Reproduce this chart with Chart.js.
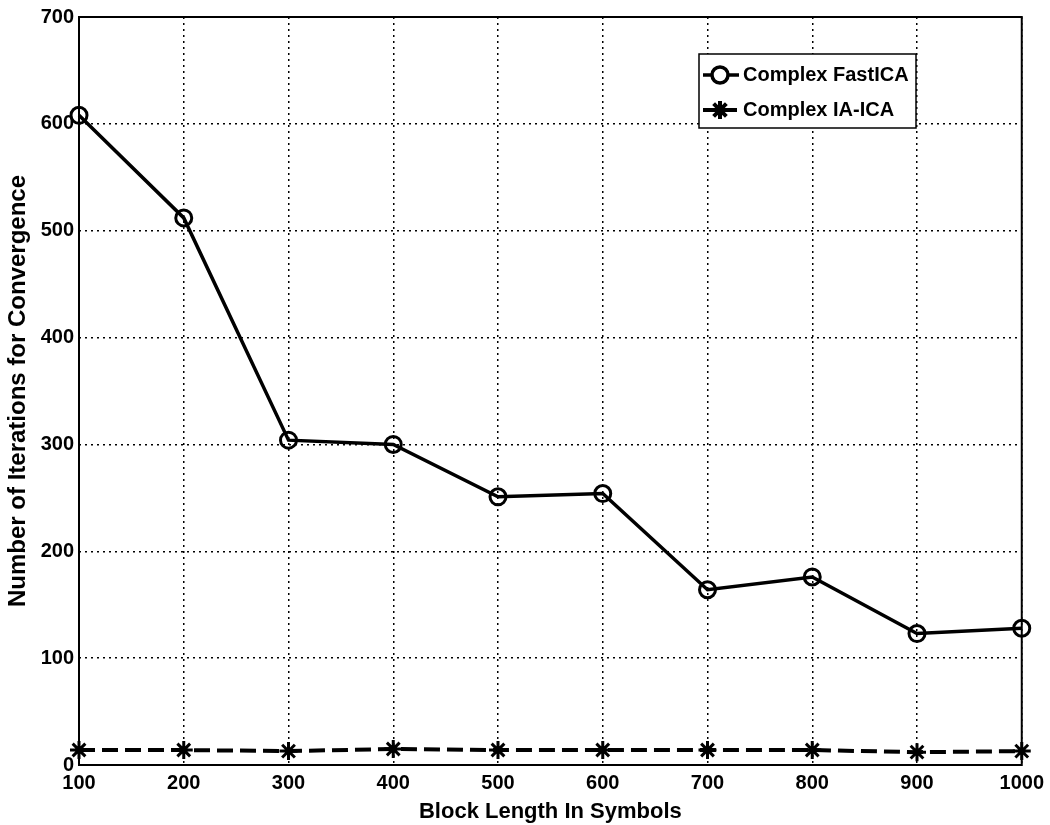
<!DOCTYPE html>
<html>
<head>
<meta charset="utf-8">
<script src="https://cdn.jsdelivr.net/npm/chart.js@4"></script>
<style>
  html, body { margin: 0; padding: 0; background: #fff; }
  #wrap { width: 1050px; height: 825px; }
</style>
</head>
<body>
<div id="wrap"><canvas id="myChart" width="1050" height="825"></canvas></div>
<script>
// block lengths (x) and iteration counts
const blockLengths = [100, 200, 300, 400, 500, 600, 700, 800, 900, 1000];
const fastIcaIters = [608, 512, 304, 300, 251, 254, 164, 176, 123, 128];
const iaIcaIters = [14, 14, 13, 15, 14, 14, 14, 14, 12, 13];
const seriesNames = ["Complex FastICA", "Complex IA-ICA"];

const xTicks = [100, 200, 300, 400, 500, 600, 700, 800, 900, 1000];
const yTicks = [0, 100, 200, 300, 400, 500, 600, 700];

const FONT = "'Liberation Sans', Arial, sans-serif";

// frame round the plot area + legend box in the top right corner
const framePlugin = {
    id: "frame",
    afterDatasetsDraw(chart) {
        const ctx = chart.ctx;
        const a = chart.chartArea;
        ctx.save();
        ctx.strokeStyle = "#000";
        ctx.lineWidth = 2;
        ctx.setLineDash([]);
        ctx.strokeRect(a.left, a.top, a.right - a.left, a.bottom - a.top);

        // legend
        const box = { left: 699, top: 54, right: 916, bottom: 128 };
        ctx.fillStyle = "#fff";
        ctx.fillRect(box.left, box.top, box.right - box.left, box.bottom - box.top);
        ctx.lineWidth = 1.5;
        ctx.strokeRect(box.left, box.top, box.right - box.left, box.bottom - box.top);

        const rows = [75, 110];
        chart.data.datasets.forEach((ds, i) => {
            const y = rows[i];
            ctx.strokeStyle = "#000";
            ctx.lineWidth = ds.borderWidth;
            ctx.setLineDash(i === 1 ? [8, 5] : []);
            ctx.beginPath();
            ctx.moveTo(703, y);
            ctx.lineTo(739, y);
            ctx.stroke();
            ctx.setLineDash([]);
            Chart.helpers.drawPoint(ctx, {
                pointStyle: ds.pointStyle,
                radius: ds.pointRadius,
                borderWidth: ds.pointBorderWidth
            }, 720, y);
            ctx.fillStyle = "#000";
            ctx.font = "bold 20px " + FONT;
            ctx.textBaseline = "middle";
            ctx.textAlign = "left";
            ctx.fillText(ds.label, 743, y);
        });
        ctx.restore();
    }
};

const ctx = document.getElementById("myChart").getContext("2d");

const chart = new Chart(ctx, {
    type: "line",
    data: {
        datasets: [
            {
                label: seriesNames[0],
                data: blockLengths.map((x, i) => ({ x: x, y: fastIcaIters[i] })),
                borderColor: "#000",
                backgroundColor: "#fff",
                borderWidth: 3.5,
                pointStyle: "circle",
                pointRadius: 8,
                pointBorderWidth: 3,
                pointBackgroundColor: "rgba(0,0,0,0)",
                pointBorderColor: "#000"
            },
            {
                label: seriesNames[1],
                data: blockLengths.map((x, i) => ({ x: x, y: iaIcaIters[i] })),
                borderColor: "#000",
                backgroundColor: "#fff",
                borderWidth: 4,
                borderDash: [16, 7],
                pointStyle: "star",
                pointRadius: 9,
                pointBorderWidth: 3,
                pointBackgroundColor: "#000",
                pointBorderColor: "#000"
            }
        ]
    },
    options: {
        responsive: false,
        animation: false,
        clip: false,
        layout: {
            padding: { top: 17, right: 27, left: 0, bottom: 0 }
        },
        plugins: {
            legend: { display: false },
            tooltip: { enabled: false }
        },
        scales: {
            x: {
                type: "linear",
                min: 100,
                max: 1000,
                afterFit: function (scale) { scale.height = 60; },
                afterBuildTicks: function (scale) {
                    scale.ticks = xTicks.map(v => ({ value: v }));
                },
                ticks: {
                    color: "#000",
                    padding: 6,
                    maxRotation: 0,
                    callback: function (value) { return String(value); },
                    font: { family: FONT, size: 20, weight: "bold" }
                },
                grid: {
                    color: "#000",
                    lineWidth: 1.5,
                    drawTicks: false
                },
                border: { display: false, dash: [2, 4] },
                title: {
                    display: true,
                    text: "Block Length In Symbols",
                    color: "#000",
                    padding: { top: 0, bottom: 0 },
                    font: { family: FONT, size: 22, weight: "bold" }
                }
            },
            y: {
                type: "linear",
                min: 0,
                max: 700,
                afterFit: function (scale) { scale.width = 79; },
                afterBuildTicks: function (scale) {
                    scale.ticks = yTicks.map(v => ({ value: v }));
                },
                ticks: {
                    color: "#000",
                    padding: 5,
                    callback: function (value) { return String(value); },
                    font: { family: FONT, size: 20, weight: "bold" }
                },
                grid: {
                    color: "#000",
                    lineWidth: 1.5,
                    drawTicks: false
                },
                border: { display: false, dash: [2, 4] },
                title: {
                    display: true,
                    text: "Number of Iterations for Convergence",
                    color: "#000",
                    padding: { top: 4, bottom: 0 },
                    font: { family: FONT, size: 24, weight: "bold" }
                }
            }
        }
    },
    plugins: [framePlugin]
});
</script>
</body>
</html>
